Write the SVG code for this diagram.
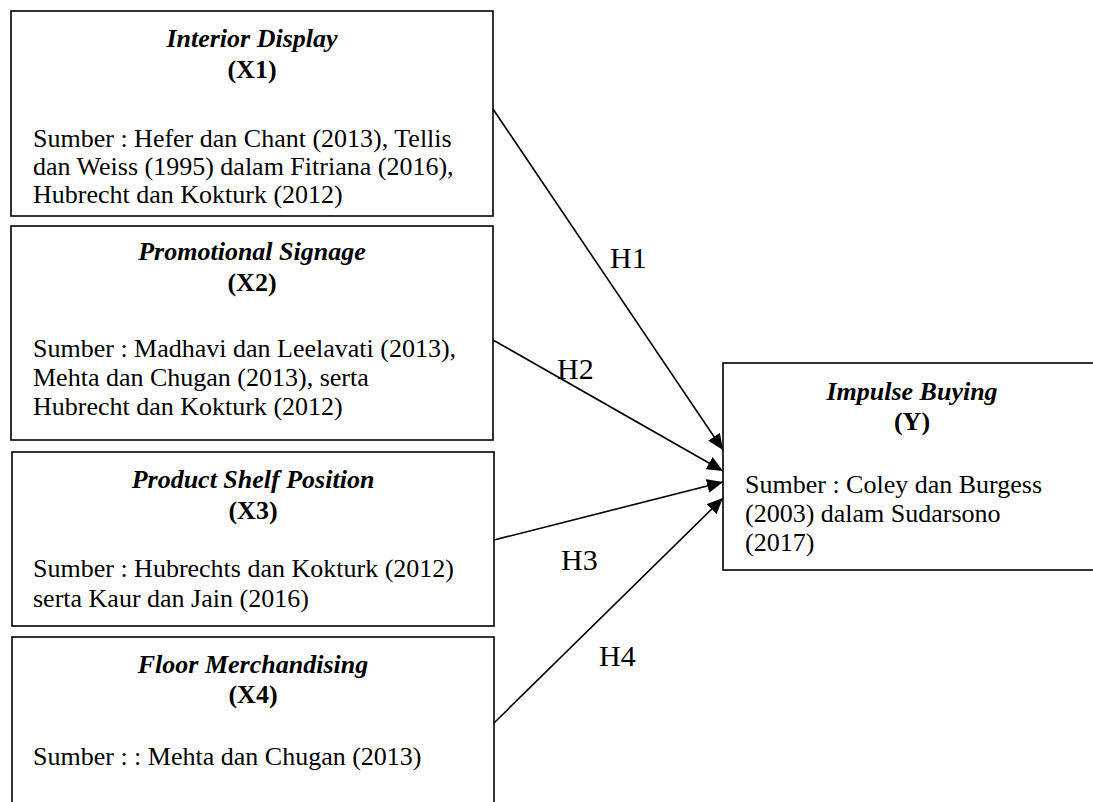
<svg xmlns="http://www.w3.org/2000/svg" width="1093" height="802" viewBox="0 0 1093 802">
<defs>
<style>
.box{fill:#fff;stroke:#000;stroke-width:1.6}
text{font-family:"Liberation Serif","Times New Roman",serif;font-size:26px;fill:#000}
.t{font-weight:bold;font-style:italic;text-anchor:middle}
.v{font-weight:bold;text-anchor:middle}
.h{font-size:30px}
.edge{stroke:#000;stroke-width:1.6;fill:none}
</style>
<marker id="ah" markerUnits="userSpaceOnUse" markerWidth="16" markerHeight="14" viewBox="0 0 16 14" refX="16" refY="7" orient="auto">
<path d="M0,0 L16,7 L0,14 Z" fill="#000"/>
</marker>
</defs>
<rect width="1093" height="802" fill="#fff"/>
<g id="x1">
<rect class="box" x="11" y="11" width="482" height="205"/>
<text class="t" x="252" y="47">Interior Display</text>
<text class="v" x="252" y="78">(X1)</text>
<text x="33" y="147">Sumber : Hefer dan Chant (2013), Tellis</text>
<text x="33" y="175">dan Weiss (1995) dalam Fitriana (2016),</text>
<text x="33" y="203">Hubrecht dan Kokturk (2012)</text>
</g>
<g id="x2">
<rect class="box" x="11" y="226" width="482" height="214"/>
<text class="t" x="252" y="260">Promotional Signage</text>
<text class="v" x="252" y="291">(X2)</text>
<text x="33" y="357">Sumber : Madhavi dan Leelavati (2013),</text>
<text x="33" y="386">Mehta dan Chugan (2013), serta</text>
<text x="33" y="415">Hubrecht dan Kokturk (2012)</text>
</g>
<g id="x3">
<rect class="box" x="12" y="452" width="482" height="174"/>
<text class="t" x="253" y="488">Product Shelf Position</text>
<text class="v" x="253" y="519">(X3)</text>
<text x="33" y="577">Sumber : Hubrechts dan Kokturk (2012)</text>
<text x="33" y="607">serta Kaur dan Jain (2016)</text>
</g>
<g id="x4">
<rect class="box" x="12" y="637" width="482" height="180"/>
<text class="t" x="253" y="673">Floor Merchandising</text>
<text class="v" x="253" y="703">(X4)</text>
<text x="33" y="765">Sumber : : Mehta dan Chugan (2013)</text>
</g>
<g id="y">
<rect class="box" x="723" y="363" width="380" height="207"/>
<text class="t" x="912" y="400">Impulse Buying</text>
<text class="v" x="912" y="430">(Y)</text>
<text x="745" y="493">Sumber : Coley dan Burgess</text>
<text x="745" y="522">(2003) dalam Sudarsono</text>
<text x="745" y="551">(2017)</text>
</g>
<g id="connectors">
<line class="edge" x1="493" y1="109" x2="723" y2="450" marker-end="url(#ah)"/>
<line class="edge" x1="493" y1="340" x2="723" y2="471" marker-end="url(#ah)"/>
<line class="edge" x1="494" y1="540" x2="723" y2="482" marker-end="url(#ah)"/>
<line class="edge" x1="494" y1="723" x2="723" y2="498" marker-end="url(#ah)"/>
<text class="h" x="610" y="268">H1</text>
<text class="h" x="557" y="379">H2</text>
<text class="h" x="561" y="570">H3</text>
<text class="h" x="599" y="666">H4</text>
</g>
</svg>
